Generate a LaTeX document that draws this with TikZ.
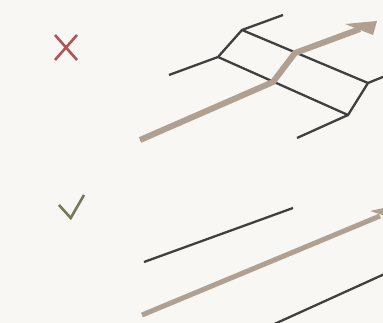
\documentclass[tikz,border=0pt]{standalone}
\usetikzlibrary{arrows.meta}
\definecolor{paper}{HTML}{F8F7F4}
\definecolor{ink}{HTML}{404040}
\definecolor{sand}{HTML}{B0A092}
\definecolor{wrongred}{HTML}{B05555}
\definecolor{okgreen}{HTML}{737A5C}
\begin{document}
\begin{tikzpicture}[
    x=1pt,y=-1pt,
    edge/.style={draw=ink,line width=2.3pt},
    flow/.style={draw=sand,line width=6pt},
    flowhead/.style={fill=sand},
    signmark/.style={line width=2.6pt}
]
    \fill[paper] (0,0) rectangle (383,323);
    \clip (0,0) rectangle (383,323);

    % crossing mesh
    \coordinate (a1) at (169,75);
    \coordinate (a2) at (218,57);
    \coordinate (a3) at (242,30);
    \coordinate (a4) at (283,15);
    \coordinate (b1) at (348,115);
    \coordinate (b2) at (368,83);
    \coordinate (b3) at (400,70);
    \coordinate (b4) at (297,138);
    \draw[edge] (a1) -- (a2) -- (a3) -- (a4);
    \draw[edge] (a2) -- (b1) -- (b2) -- (b3);
    \draw[edge] (a3) -- (b2);
    \draw[edge] (b1) -- (b4);

    \coordinate (f1) at (140,140);
    \coordinate (f2) at (273,82);
    \coordinate (f3) at (295,53);
    \coordinate (f4) at (360,29);
    \draw[flow] (f1) -- (f2) -- (f3) -- (f4);
    \fill[flowhead] (377,21) -- (345,24) -- (373,35) -- cycle;

    % parallel lines
    \coordinate (p1) at (144,262);
    \coordinate (p2) at (293,208);
    \coordinate (q1) at (142,315);
    \coordinate (q2) at (380,216);
    \coordinate (r1) at (270,326);
    \coordinate (r2) at (400,267);
    \draw[edge] (p1) -- (p2);
    \draw[flow,line width=5pt] (q1) -- (q2);
    \fill[flowhead] (402,204) -- (370,211) -- (398,220) -- cycle;
    \draw[edge] (r1) -- (r2);

    % marks
    \draw[signmark,wrongred] (55,35) -- (77,60) (77,35) -- (55,60);
    \draw[signmark,okgreen] (59,205) -- (70.7,218) -- (84,195);
\end{tikzpicture}
\end{document}
